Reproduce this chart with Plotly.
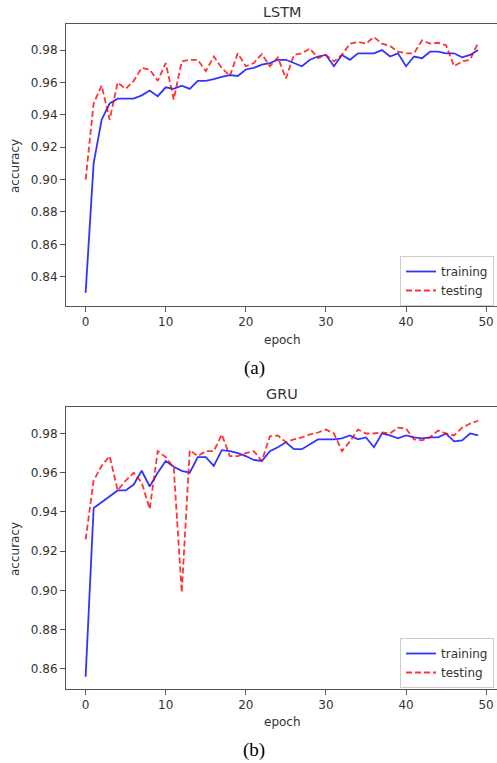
import plotly.graph_objects as go

epochs = list(range(50))

lstm_train = [0.830, 0.910, 0.937, 0.947, 0.950, 0.950, 0.950, 0.952, 0.955, 0.9515,
              0.957, 0.956, 0.958, 0.956, 0.961, 0.961, 0.962, 0.9635, 0.9645, 0.964,
              0.968, 0.969, 0.971, 0.972, 0.974, 0.974, 0.972, 0.970, 0.974, 0.976,
              0.977, 0.970, 0.977, 0.974, 0.978, 0.978, 0.978, 0.980, 0.976, 0.978,
              0.970, 0.976, 0.975, 0.979, 0.979, 0.978, 0.978, 0.9755, 0.977, 0.980]
lstm_test = [0.900, 0.947, 0.958, 0.937, 0.960, 0.956, 0.961, 0.969, 0.968, 0.961,
             0.972, 0.9495, 0.973, 0.974, 0.974, 0.967, 0.976, 0.969, 0.964, 0.978,
             0.970, 0.972, 0.9775, 0.970, 0.9755, 0.9625, 0.977, 0.978, 0.981, 0.975,
             0.977, 0.973, 0.977, 0.984, 0.985, 0.984, 0.988, 0.984, 0.9825, 0.979,
             0.978, 0.978, 0.986, 0.984, 0.9845, 0.983, 0.970, 0.973, 0.974, 0.9845]
gru_train = [0.856, 0.942, 0.945, 0.948, 0.951, 0.951, 0.954, 0.961, 0.953, 0.960,
             0.966, 0.963, 0.961, 0.960, 0.968, 0.968, 0.9635, 0.9715, 0.971, 0.970,
             0.9685, 0.9665, 0.966, 0.971, 0.973, 0.9755, 0.972, 0.972, 0.9745, 0.977,
             0.977, 0.977, 0.9775, 0.979, 0.977, 0.978, 0.973, 0.980, 0.979, 0.9775,
             0.979, 0.978, 0.9775, 0.978, 0.978, 0.980, 0.976, 0.9765, 0.980, 0.979]
gru_test = [0.926, 0.956, 0.9635, 0.9685, 0.951, 0.956, 0.960, 0.955, 0.9415, 0.971,
            0.968, 0.9625, 0.899, 0.9715, 0.9685, 0.971, 0.971, 0.9795, 0.9685, 0.9685,
            0.970, 0.971, 0.966, 0.9785, 0.979, 0.9755, 0.977, 0.978, 0.9795, 0.9805,
            0.982, 0.980, 0.971, 0.976, 0.982, 0.980, 0.980, 0.9805, 0.980, 0.983,
            0.9825, 0.977, 0.9765, 0.978, 0.9815, 0.980, 0.979, 0.983, 0.985, 0.9865]

x_ticks = [0, 10, 20, 30, 40, 50]
lstm_yticks = [0.84, 0.86, 0.88, 0.90, 0.92, 0.94, 0.96, 0.98]
gru_yticks = [0.86, 0.88, 0.90, 0.92, 0.94, 0.96, 0.98]

W, H = 497, 763
def px(x):
    return x / W
def py(y):
    return 1 - y / H

BLUE = "rgba(0,0,255,0.8)"
RED = "rgba(255,0,0,0.8)"
FONT = "DejaVu Sans"
TXT = "#333333"

fig = go.Figure()
fig.add_trace(go.Scatter(x=epochs, y=lstm_train, mode="lines", name="training",
                         line=dict(color=BLUE, width=1.8), xaxis="x", yaxis="y", legend="legend"))
fig.add_trace(go.Scatter(x=epochs, y=lstm_test, mode="lines", name="testing",
                         line=dict(color=RED, width=1.8, dash="6px,3px"), xaxis="x", yaxis="y", legend="legend"))
fig.add_trace(go.Scatter(x=epochs, y=gru_train, mode="lines", name="training",
                         line=dict(color=BLUE, width=1.8), xaxis="x2", yaxis="y2", legend="legend2"))
fig.add_trace(go.Scatter(x=epochs, y=gru_test, mode="lines", name="testing",
                         line=dict(color=RED, width=1.8, dash="6px,3px"), xaxis="x2", yaxis="y2", legend="legend2"))

axis_common = dict(showgrid=False, zeroline=False, showline=True, linecolor="#555555", linewidth=1.1,
                   ticks="outside", ticklen=5, tickwidth=1, tickcolor="#555555",
                   tickfont=dict(family=FONT, size=12, color=TXT))

xdom = [66 / W, 1.0]
xrange_ = [-2.45, -2.45 + (W - 66) / 8.01]

legend_common = dict(xanchor="right", yanchor="top",
                     bgcolor="rgba(255,255,255,0.85)", bordercolor="#cccccc", borderwidth=1,
                     font=dict(family=FONT, size=12, color=TXT), tracegroupgap=0)

fig.update_layout(
    width=W, height=H,
    margin=dict(l=0, r=0, t=0, b=0),
    paper_bgcolor="white", plot_bgcolor="white",
    xaxis=dict(domain=xdom, range=xrange_, tickvals=x_ticks, mirror=True, anchor="y", **axis_common),
    yaxis=dict(domain=[py(306), py(24)], range=[0.8219, 0.9961], tickvals=lstm_yticks,
               tickformat=".2f", anchor="x", **axis_common),
    xaxis2=dict(domain=xdom, range=xrange_, tickvals=x_ticks, mirror=True, anchor="y2", **axis_common),
    yaxis2=dict(domain=[py(689), py(407)], range=[0.8498, 0.9935], tickvals=gru_yticks,
                tickformat=".2f", anchor="x2", **axis_common),
    legend=dict(x=px(494), y=py(256), **legend_common),
    legend2=dict(x=px(494), y=py(638), **legend_common),
    showlegend=True,
)

def ann(text, x, y, size=12, family=FONT, angle=0):
    fig.add_annotation(text=text, x=px(x), y=py(y), xref="paper", yref="paper",
                       xanchor="center", yanchor="middle", showarrow=False, textangle=angle,
                       font=dict(family=family, size=size, color=TXT if family == FONT else "black"))

ann("LSTM", 282, 12, size=14.4)
ann("epoch", 282, 340)
ann("(a)", 254, 368, size=19, family="Liberation Serif")
ann("accuracy", 15, 166, angle=-90)
ann("GRU", 282, 394, size=14.4)
ann("epoch", 282, 722)
ann("(b)", 254, 750, size=19, family="Liberation Serif")
ann("accuracy", 15, 549, angle=-90)

fig.write_html("out.html",
               config={"displayModeBar": False},
               post_script="document.body.style.margin='0';document.body.style.padding='0';"
                           "document.body.style.overflow='hidden';"
                           "document.documentElement.style.overflow='hidden';")
